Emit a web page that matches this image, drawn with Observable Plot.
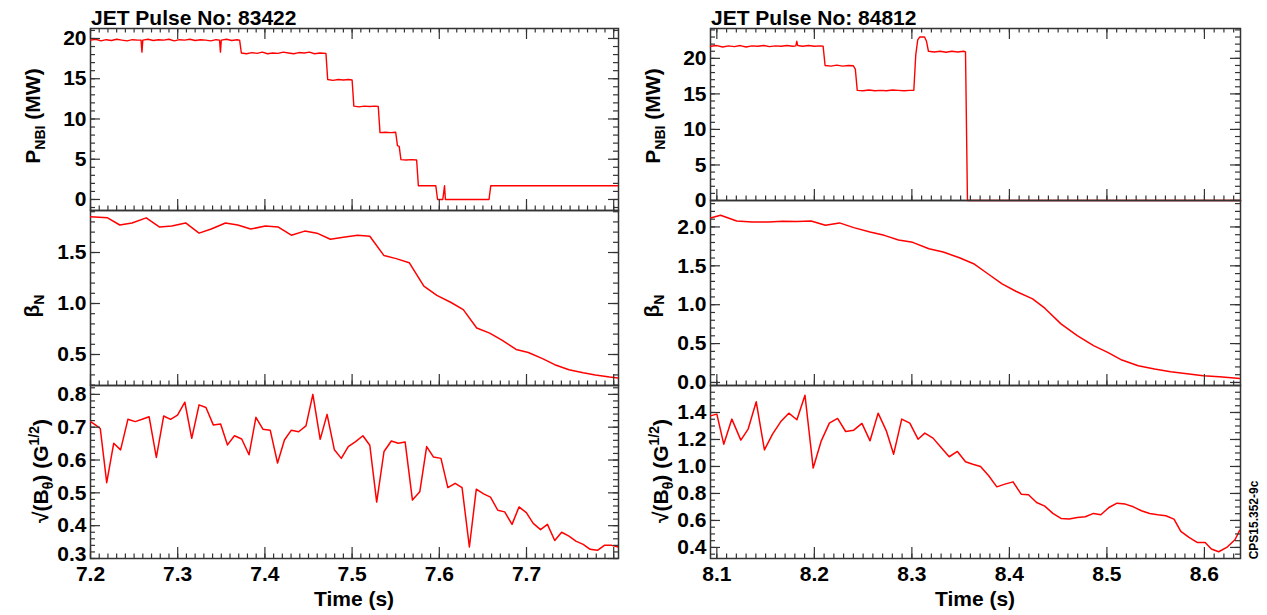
<!DOCTYPE html>
<html><head><meta charset="utf-8">
<script src="https://cdn.jsdelivr.net/npm/d3@7"></script>
<script src="https://cdn.jsdelivr.net/npm/@observablehq/plot@0.6"></script>
<style>
body{margin:0;background:#fff;}
#chart{position:relative;width:1267px;height:615px;overflow:hidden;font-family:'Liberation Sans',Arial,Helvetica,sans-serif;font-weight:bold;color:#000;}
.lbl{position:absolute;white-space:nowrap;font-size:21px;line-height:1;}
.rot{transform:translate(-50%,-50%) rotate(-90deg);}
.ctr{transform:translate(-50%,-50%);}
.sb{font-size:14px;position:relative;top:5px;}
.sp{font-size:14px;position:relative;top:-9px;}
</style></head>
<body><div id="chart"></div>
<script>
// ---------- data ----------
const titleA = "JET Pulse No: 83422";
const titleB = "JET Pulse No: 84812";
const xLabel = "Time (s)";
const stamp = "CPS15.352-9c";

// Pulse 83422 — NBI power (MW)
const tNbiA = [7.200,7.206,7.212,7.218,7.224,7.230,7.236,7.242,7.248,7.254,7.258,7.259,7.260,7.266,7.272,7.278,7.284,7.290,7.296,7.302,7.308,7.314,7.320,7.326,7.332,7.338,7.344,7.348,7.349,7.350,7.356,7.362,7.368,7.371,7.373,7.379,7.385,7.391,7.397,7.403,7.409,7.415,7.421,7.427,7.433,7.439,7.445,7.451,7.457,7.463,7.470,7.472,7.478,7.484,7.490,7.496,7.500,7.502,7.508,7.514,7.520,7.526,7.530,7.532,7.538,7.544,7.550,7.552,7.554,7.556,7.562,7.568,7.574,7.576,7.584,7.590,7.596,7.598,7.604,7.606,7.607,7.608,7.620,7.640,7.657,7.659,7.700,7.750,7.806];
const pNbiA = [19.8,19.9,19.7,19.85,19.75,19.9,19.8,19.7,19.85,19.8,19.8,18.3,19.8,19.9,19.75,19.85,19.8,19.9,19.7,19.85,19.8,19.9,19.75,19.85,19.8,19.7,19.85,19.8,18.3,19.8,19.9,19.75,19.85,19.8,18.2,18.1,18.25,18.15,18.3,18.1,18.2,18.15,18.3,18.2,18.1,18.25,18.2,18.3,18.1,18.2,18.15,14.9,14.8,14.9,14.85,14.9,14.85,11.6,11.5,11.6,11.55,11.6,11.55,8.3,8.35,8.3,8.35,6.7,6.6,4.95,4.9,4.95,4.9,1.7,1.7,1.7,1.7,0,0,1.7,0,0,0,0,0,1.7,1.7,1.7,1.7];

// Pulse 83422 — beta_N
const tBetaA = [7.2,7.2196,7.2336,7.2476,7.2639,7.2793,7.2932,7.3091,7.3245,7.3385,7.3548,7.3688,7.3837,7.4005,7.4154,7.4303,7.4457,7.4597,7.4751,7.49,7.5063,7.5203,7.5366,7.5506,7.5655,7.5823,7.5972,7.6135,7.6275,7.6429,7.6578,7.6718,7.6881,7.7021,7.7184,7.7324,7.7487,7.765,7.779,7.7953,7.8055];
const vBetaA = [1.85,1.84,1.77,1.79,1.84,1.75,1.76,1.79,1.69,1.73,1.79,1.77,1.73,1.76,1.75,1.67,1.71,1.69,1.63,1.65,1.67,1.66,1.47,1.44,1.40,1.17,1.08,1.01,0.94,0.76,0.71,0.64,0.55,0.52,0.46,0.40,0.35,0.32,0.30,0.28,0.27];

// Pulse 83422 — sqrt(B_theta)
const tSqA = [7.2,7.2056,7.2112,7.2186,7.2266,7.2345,7.2429,7.2513,7.2592,7.2672,7.2755,7.2839,7.2918,7.2998,7.3082,7.3161,7.3245,7.3324,7.3408,7.3492,7.3571,7.3651,7.3734,7.3818,7.3897,7.3977,7.4061,7.4145,7.4224,7.4303,7.4387,7.4471,7.455,7.4634,7.4713,7.4797,7.4876,7.4956,7.504,7.5124,7.5203,7.5282,7.5366,7.545,7.5529,7.5608,7.5692,7.5776,7.5855,7.5934,7.6019,7.6098,7.6182,7.6261,7.6345,7.6424,7.6508,7.6587,7.6671,7.675,7.6834,7.6914,7.6998,7.7077,7.7161,7.724,7.7324,7.7403,7.7487,7.7566,7.765,7.773,7.7814,7.7893,7.7977,7.8055];
const vSqA = [0.717,0.707,0.696,0.531,0.651,0.631,0.724,0.717,0.724,0.732,0.608,0.734,0.724,0.737,0.776,0.666,0.768,0.76,0.707,0.71,0.646,0.674,0.664,0.616,0.73,0.694,0.691,0.591,0.661,0.691,0.686,0.704,0.8,0.663,0.739,0.631,0.605,0.641,0.656,0.674,0.645,0.472,0.626,0.658,0.651,0.655,0.478,0.503,0.641,0.609,0.605,0.516,0.529,0.516,0.335,0.511,0.497,0.487,0.447,0.442,0.404,0.457,0.44,0.407,0.388,0.404,0.355,0.38,0.368,0.353,0.343,0.328,0.325,0.34,0.34,0.335];

// Pulse 84812 — NBI power (MW)
const tNbiB = [8.0935,8.100,8.106,8.112,8.118,8.124,8.130,8.136,8.142,8.148,8.154,8.160,8.166,8.172,8.178,8.181,8.182,8.183,8.188,8.194,8.200,8.206,8.209,8.211,8.217,8.223,8.229,8.235,8.240,8.242,8.244,8.250,8.256,8.262,8.268,8.274,8.280,8.286,8.292,8.298,8.302,8.304,8.306,8.308,8.313,8.315,8.317,8.323,8.329,8.335,8.341,8.347,8.353,8.355,8.357,8.45,8.55,8.637];
const pNbiB = [21.7,21.8,21.6,21.75,21.65,21.8,21.6,21.75,21.7,21.8,21.65,21.75,21.7,21.8,21.7,21.75,22.4,21.8,21.7,21.8,21.7,21.75,21.7,19.0,18.9,19.05,18.9,19.0,18.95,18.5,15.5,15.45,15.55,15.45,15.5,15.45,15.55,15.5,15.45,15.5,15.5,20.5,22.6,23.0,23.0,22.4,21.0,20.9,21.0,20.85,21.0,20.9,21.0,20.9,0,0,0,0];

// Pulse 84812 — beta_N
const tBetaB = [8.0935,8.1038,8.1204,8.1363,8.153,8.1675,8.1821,8.1967,8.2113,8.2258,8.2404,8.2571,8.2717,8.2863,8.3008,8.3175,8.3321,8.3488,8.3633,8.3779,8.3925,8.4071,8.4238,8.4363,8.4529,8.4696,8.4863,8.5008,8.5154,8.5321,8.5488,8.5654,8.5821,8.5988,8.6154,8.6363];
const vBetaB = [2.116,2.15,2.077,2.065,2.065,2.073,2.069,2.077,2.022,2.052,1.991,1.935,1.892,1.832,1.802,1.72,1.677,1.604,1.527,1.398,1.269,1.17,1.075,0.955,0.753,0.602,0.473,0.387,0.288,0.215,0.172,0.138,0.112,0.086,0.073,0.052];

// Pulse 84812 — sqrt(B_theta)
const tSqB = [8.0933,8.1,8.1071,8.1154,8.1246,8.1321,8.1404,8.1488,8.1571,8.1654,8.1738,8.1821,8.1904,8.1988,8.2071,8.2154,8.2238,8.2321,8.2404,8.2488,8.2571,8.2654,8.2738,8.2813,8.2896,8.2979,8.3063,8.3133,8.3217,8.33,8.3383,8.3467,8.355,8.3625,8.3704,8.3788,8.3871,8.3954,8.4038,8.4121,8.4196,8.4279,8.4363,8.4446,8.4529,8.4613,8.4696,8.4779,8.4863,8.4938,8.5021,8.5104,8.5188,8.5271,8.5354,8.5438,8.5521,8.5604,8.5688,8.5758,8.5842,8.5925,8.6008,8.6071,8.6146,8.6229,8.6313,8.6363];
const vSqB = [1.375,1.388,1.165,1.351,1.195,1.277,1.479,1.123,1.24,1.331,1.395,1.346,1.528,0.988,1.19,1.321,1.356,1.259,1.269,1.319,1.19,1.395,1.264,1.091,1.351,1.321,1.202,1.247,1.21,1.141,1.072,1.111,1.035,1.017,1.0,0.931,0.849,0.869,0.886,0.795,0.79,0.733,0.706,0.652,0.615,0.61,0.622,0.627,0.652,0.642,0.696,0.728,0.721,0.701,0.672,0.652,0.642,0.635,0.61,0.519,0.474,0.437,0.437,0.388,0.368,0.4,0.457,0.528];

// tick values
const xMajA = [7.2,7.3,7.4,7.5,7.6,7.7,7.8];
const xLabA = [7.2,7.3,7.4,7.5,7.6,7.7];
const xMajB = [8.1,8.2,8.3,8.4,8.5,8.6];
const xLabB = [8.1,8.2,8.3,8.4,8.5,8.6];
const xMinA = d3.range(720, 781).map(d => d / 100);
const xMinB = d3.range(810, 864).map(d => d / 100);
const yMajNbi = [0,5,10,15,20];
const yMajBetaA = [0.5,1.0,1.5];
const yMajBetaB = [0.0,0.5,1.0,1.5,2.0];
const yMajSqA = [0.3,0.4,0.5,0.6,0.7,0.8];
const yEdgeSqA = [0.3];           // label sitting on the lower edge, lifted slightly
const yMajSqB = [0.4,0.6,0.8,1.0,1.2,1.4];
const yMinNbiA = d3.range(-1, 22);
const yMinNbiB = d3.range(0, 25);
const yMinBetaA = d3.range(2, 20).map(d => d / 10);
const yMinBetaB = d3.range(0, 24).map(d => d / 10);
const yMinSqA = d3.range(15, 42).map(d => d / 50);
const yMinSqB = d3.range(7, 33).map(d => d / 20);

// ---------- drawing ----------
const FONT = "'Liberation Sans', Arial, Helvetica, sans-serif";
const chart = document.getElementById("chart");
const AX = "#333";

function panel(o) {
  const W = o.width - o.mL - o.mR, H = o.height - o.mT - o.mB;
  const labTicks = o.yEdge ? o.yMaj.filter(d => !o.yEdge.includes(d)) : o.yMaj;
  const yText = {tickSize: 0, tickPadding: 4, tickFormat: d3.format(o.yFmt),
      fontSize: 21, fontWeight: "bold", fill: "#000", label: null};
  const marks = [
    Plot.frame({stroke: AX, strokeWidth: 1.5}),
    Plot.line(o.t, {x: o.t, y: o.v, stroke: "#ff0000", strokeWidth: o.sw || 1.5, clip: o.clip !== false}),
    Plot.tickX(o.xMin, {x: d => d, insetTop: H - 4.5, stroke: AX, strokeWidth: 1.2}),
    Plot.tickX(o.xMaj, {x: d => d, insetTop: H - 11, stroke: AX, strokeWidth: 1.2}),
    Plot.tickY(o.yMin, {y: d => d, insetRight: W - 5, stroke: AX, strokeWidth: 1.2}),
    Plot.tickY(o.yMaj, {y: d => d, insetRight: W - 10, stroke: AX, strokeWidth: 1.2}),
    Plot.tickY(o.yMin, {y: d => d, insetLeft: W - 5, stroke: AX, strokeWidth: 1.2}),
    Plot.tickY(o.yMaj, {y: d => d, insetLeft: W - 10, stroke: AX, strokeWidth: 1.2}),
    Plot.axisY({ticks: labTicks, ...yText})
  ];
  if (o.yEdge) marks.push(Plot.axisY({ticks: o.yEdge, ...yText, dy: -4}));
  if (o.topTicks) {
    marks.push(Plot.tickX(o.xMin, {x: d => d, insetBottom: H - 4.5, stroke: AX, strokeWidth: 1.2}));
    marks.push(Plot.tickX(o.xMaj, {x: d => d, insetBottom: H - 11, stroke: AX, strokeWidth: 1.2}));
  }
  if (o.xLab) {
    marks.push(Plot.axisX({ticks: o.xLab, tickSize: 0, tickPadding: 8, tickFormat: d3.format(".1f"),
      fontSize: 21, fontWeight: "bold", fill: "#000", label: null}));
  }
  const svg = Plot.plot({
    width: o.width, height: o.height,
    marginLeft: o.mL, marginRight: o.mR, marginTop: o.mT, marginBottom: o.mB,
    x: {domain: o.xDomain, axis: o.xLab ? undefined : null},
    y: {domain: o.yDomain},
    style: {fontFamily: FONT, background: "transparent", overflow: "visible", color: "#000"},
    marks
  });
  svg.style.position = "absolute";
  svg.style.left = o.left + "px";
  svg.style.top = o.top + "px";
  chart.appendChild(svg);
}

const colA = {left: 0, width: 640, mL: 90, mR: 22, xDomain: [7.2, 7.8055], xMaj: xMajA, xMin: xMinA};
const colB = {left: 630, width: 637, mL: 80, mR: 27, xDomain: [8.0935, 8.637], xMaj: xMajB, xMin: xMinB};

panel({...colA, top: 0, height: 212, mT: 28, mB: 2, yDomain: [-1.37, 21.24], yMaj: yMajNbi, yMin: yMinNbiA, yFmt: "d", t: tNbiA, v: pNbiA, topTicks: true, sw: 1.4});
panel({...colA, top: 208, height: 179, mT: 2, mB: 2, yDomain: [0.196, 1.912], yMaj: yMajBetaA, yMin: yMinBetaA, yFmt: ".1f", t: tBetaA, v: vBetaA});
panel({...colA, top: 383, height: 232, mT: 2, mB: 57, yDomain: [0.3, 0.827], yMaj: yMajSqA, yEdge: yEdgeSqA, yMin: yMinSqA, yFmt: ".1f", t: tSqA, v: vSqA, xLab: xLabA});

panel({...colB, top: 0, height: 202, mT: 28, mB: 2, yDomain: [0, 24.2], yMaj: yMajNbi, yMin: yMinNbiB, yFmt: "d", t: tNbiB, v: pNbiB, topTicks: true, sw: 1.4, clip: false});
panel({...colB, top: 198, height: 189, mT: 2, mB: 2, yDomain: [-0.039, 2.34], yMaj: yMajBetaB, yMin: yMinBetaB, yFmt: ".1f", t: tBetaB, v: vBetaB});
panel({...colB, top: 383, height: 232, mT: 2, mB: 57, yDomain: [0.318, 1.6], yMaj: yMajSqB, yMin: yMinSqB, yFmt: ".1f", t: tSqB, v: vSqB, xLab: xLabB});

// ---------- text ----------
function label(html, x, y, cls, size) {
  const d = document.createElement("div");
  d.className = "lbl " + cls;
  d.style.left = x + "px";
  d.style.top = y + "px";
  if (size) d.style.fontSize = size + "px";
  d.innerHTML = html;
  chart.appendChild(d);
}
label(titleA, 91, 7, "");
label(titleB, 711, 7, "");
label(xLabel, 354, 598, "ctr");
label(xLabel, 975, 598, "ctr");
const lP = 'P<span class="sb">NBI</span> (MW)';
const lB = '&beta;<span class="sb">N</span>';
const lS = '&radic;(B<span class="sb">&theta;</span>) (G<span class="sp">1/2</span>)';
label(lP, 32, 116, "rot");
label(lB, 31, 306, "rot");
label(lS, 40, 471, "rot");
label(lP, 652, 116, "rot");
label(lB, 651, 306, "rot");
label(lS, 660, 471, "rot");
label(stamp, 1254, 520, "rot", 12);
</script>
</body></html>
